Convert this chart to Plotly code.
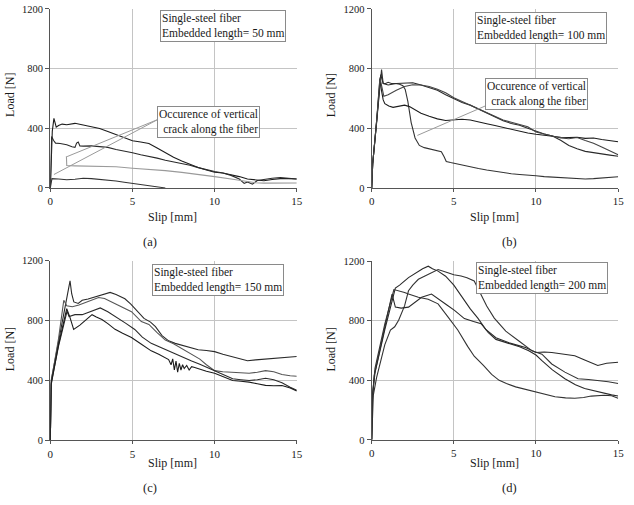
import plotly.graph_objects as go

# ---------------- data ----------------
x_ticks = [0, 5, 10, 15]
y_ticks = [0, 400, 800, 1200]
panel_labels = ["(a)", "(b)", "(c)", "(d)"]
box_texts = [
    "Single-steel fiber<br>Embedded length= 50 mm",
    "Single-steel fiber<br>Embedded length= 100 mm",
    "Single-steel fiber<br>Embedded length= 150 mm",
    "Single-steel fiber<br>Embedded length= 200 mm",
]
crack_text = "Occurence of vertical<br>crack along the fiber"

# (a) embedded length 50 mm
a1_x = [0, 0.05, 0.12, 0.22, 0.3, 0.36, 0.5, 0.72, 1.0, 1.5, 2.0, 2.5, 3.0, 3.5, 4.0, 4.5, 5.0, 5.5, 6.0, 6.5, 7.0, 7.5, 8.0, 8.5, 9.0, 9.5, 10.0, 10.5, 11.0, 11.5, 12.0, 12.5, 13.0, 13.5, 14.0, 14.5, 15.0]
a1_y = [0, 250, 380, 466, 425, 407, 418, 428, 424, 433, 422, 412, 398, 378, 356, 334, 316, 308, 298, 268, 236, 205, 180, 158, 137, 120, 105, 100, 90, 76, 60, 52, 48, 56, 62, 62, 60]
a2_x = [0, 0.05, 0.08, 0.2, 0.32, 0.6, 1.0, 1.32, 1.5, 1.6, 1.7, 1.8, 2.0, 2.5, 3.0, 3.5, 4.0, 4.5, 5.0, 5.5, 6.0, 6.5, 7.0, 7.5, 8.0, 8.5, 9.0, 9.5, 10.0, 10.5, 11.0, 11.5, 11.8, 12.0, 12.3, 12.6, 13.0, 13.5, 14.0, 14.5, 15.0]
a2_y = [0, 250, 345, 318, 300, 298, 290, 276, 272, 300, 308, 282, 280, 282, 278, 272, 258, 248, 236, 222, 212, 200, 186, 176, 164, 152, 136, 122, 110, 100, 84, 60, 30, 40, 25, 50, 58, 65, 70, 65, 60]
a3_x = [0.98, 1.0, 1.5, 2.0, 3.0, 4.0, 5.0, 6.0, 7.0, 8.0, 9.0, 10.0, 11.0, 12.0, 12.5, 13.0, 14.0, 15.0]
a3_y = [212, 150, 148, 146, 142, 142, 132, 125, 116, 104, 92, 76, 60, 40, 35, 32, 32, 33]
a4_x = [0, 0.05, 0.1, 0.5, 1.0, 1.5, 2.0, 2.5, 3.0, 3.5, 4.0, 4.5, 5.0, 5.5, 6.0, 6.5, 7.0]
a4_y = [0, 55, 62, 60, 55, 58, 65, 62, 58, 52, 46, 38, 30, 24, 16, 8, 0]

# (b) embedded length 100 mm
b1_x = [0, 0.06, 0.3, 0.6, 0.7, 0.85, 1.0, 1.2, 1.44, 1.7, 1.9, 2.04, 2.2, 2.4, 2.64, 2.9, 3.2, 3.44, 3.8, 4.0, 4.24, 4.4, 4.54, 4.8, 5.2, 5.6, 6.0, 6.5, 7.0, 7.5, 8.0, 8.5, 9.0, 9.5, 10.0, 10.5, 11.0, 11.5, 12.0, 12.5, 13.0, 13.5, 14.0, 14.5, 15.0]
b1_y = [0, 160, 440, 793, 700, 700, 708, 700, 700, 695, 685, 660, 580, 440, 335, 285, 270, 264, 255, 250, 243, 210, 177, 170, 160, 150, 140, 130, 120, 112, 100, 95, 90, 88, 82, 76, 72, 67, 64, 62, 60, 62, 65, 70, 75]
b2_x = [0, 0.06, 0.3, 0.5, 0.6, 0.7, 0.8, 1.04, 1.3, 1.6, 2.0, 2.3, 2.6, 3.0, 3.5, 4.0, 4.5, 5.0, 5.5, 6.0, 6.5, 7.0, 7.5, 8.0, 8.5, 9.0, 9.5, 10.0, 10.5, 11.0, 11.5, 12.0, 12.5, 13.0, 13.5, 14.0, 14.5, 15.0]
b2_y = [0, 160, 440, 730, 650, 590, 565, 549, 540, 548, 555, 545, 528, 500, 480, 463, 452, 455, 460, 455, 445, 430, 418, 405, 395, 380, 368, 360, 352, 345, 340, 338, 340, 332, 335, 325, 318, 310]
b3_x = [0, 0.06, 0.3, 0.55, 0.7, 1.0, 1.5, 2.0, 2.5, 3.0, 3.5, 4.0, 4.5, 5.0, 5.5, 6.0, 6.5, 7.0, 7.5, 8.0, 8.5, 9.0, 9.5, 10.0, 10.5, 11.0, 11.5, 12.0, 12.5, 13.0, 13.5, 14.0, 14.5, 15.0]
b3_y = [0, 160, 450, 760, 700, 690, 700, 700, 705, 690, 675, 655, 625, 598, 572, 555, 530, 505, 475, 450, 432, 420, 400, 380, 362, 348, 320, 285, 262, 245, 235, 228, 220, 212]
b4_x = [0, 0.06, 0.3, 0.5, 0.74, 1.0, 1.5, 2.0, 2.5, 3.0, 3.5, 4.0, 4.5, 5.0, 5.5, 6.0, 6.5, 7.0, 7.5, 8.0, 8.5, 9.0, 9.5, 10.0, 10.5, 11.0, 11.5, 12.0, 12.5, 13.0, 13.5, 14.0, 14.5, 15.0]
b4_y = [0, 160, 450, 740, 614, 625, 655, 680, 692, 690, 680, 662, 638, 605, 580, 555, 530, 505, 478, 455, 440, 425, 410, 375, 360, 350, 335, 330, 338, 318, 300, 275, 250, 222]

# (c) embedded length 150 mm
c1_x = [0, 0.05, 0.6, 1.2, 1.3, 1.43, 1.7, 1.94, 2.3, 2.6, 2.94, 3.3, 3.64, 4.0, 4.54, 4.9, 5.34, 5.7, 6.1, 6.4, 6.8, 7.2, 7.6, 8.0, 8.5, 9.0, 9.5, 10.0, 10.5, 11.0, 11.5, 12.0, 12.5, 13.1, 13.6, 14.0, 14.5, 15.0]
c1_y = [0, 400, 718, 1066, 980, 925, 915, 936, 945, 955, 965, 978, 989, 975, 946, 910, 860, 815, 790, 760, 700, 665, 648, 636, 622, 605, 600, 593, 575, 560, 545, 532, 538, 543, 550, 555, 558, 560]
c2_x = [0, 0.05, 0.5, 0.82, 1.0, 1.34, 1.74, 2.3, 2.94, 3.3, 3.74, 4.3, 4.94, 5.54, 6.0, 6.5, 7.0, 7.5, 8.1, 8.6, 9.1, 9.5, 10.0, 10.5, 11.1, 11.6, 12.1, 12.6, 13.1, 13.6, 14.1, 14.6, 15.0]
c2_y = [0, 390, 680, 936, 900, 893, 905, 930, 955, 948, 925, 895, 860, 794, 775, 720, 670, 645, 608, 575, 543, 505, 466, 458, 455, 450, 448, 455, 466, 458, 440, 432, 428]
c3_x = [0, 0.05, 0.5, 1.02, 1.14, 1.5, 1.94, 2.5, 3.04, 3.5, 4.14, 4.6, 5.14, 5.6, 6.14, 6.6, 7.1, 7.6, 8.1, 8.6, 9.1, 9.6, 10.0, 10.5, 11.1, 11.6, 12.1, 12.6, 13.1, 13.6, 14.1, 14.6, 15.0]
c3_y = [0, 380, 630, 863, 828, 840, 840, 862, 885, 860, 818, 782, 741, 690, 648, 625, 600, 578, 554, 530, 508, 485, 466, 440, 411, 405, 400, 405, 415, 405, 385, 355, 335]
c4_x = [0, 0.05, 0.5, 1.0, 1.2, 1.42, 1.8, 2.2, 2.54, 2.8, 3.14, 3.5, 3.94, 4.4, 4.94, 5.5, 6.14, 6.6, 7.0, 7.2, 7.35, 7.45, 7.55, 7.65, 7.75, 7.85, 7.95, 8.05, 8.15, 8.3, 8.45, 8.6, 8.74, 9.0, 9.5, 10.0, 10.5, 11.1, 11.6, 12.1, 12.6, 13.1, 13.6, 14.1, 14.6, 15.0]
c4_y = [0, 370, 640, 880, 820, 741, 770, 805, 840, 825, 808, 780, 742, 715, 687, 645, 598, 575, 555, 540, 505, 545, 470, 530, 455, 515, 470, 505, 480, 500, 470, 492, 488, 478, 462, 448, 425, 400, 395, 389, 378, 367, 365, 366, 350, 330]

# (d) embedded length 200 mm
d1_x = [0, 0.05, 0.2, 0.8, 1.44, 1.7, 2.24, 2.5, 2.84, 3.1, 3.44, 3.7, 4.04, 4.5, 5.0, 5.5, 6.0, 6.46, 6.96, 7.56, 8.0, 8.36, 8.9, 9.36, 10.0, 10.5, 10.96, 11.5, 12.36, 13.0, 13.76, 14.3, 15.0]
d1_y = [0, 300, 450, 740, 1020, 1040, 1090, 1110, 1134, 1150, 1167, 1150, 1134, 1100, 1040, 960, 880, 818, 740, 686, 665, 653, 635, 620, 587, 590, 587, 578, 565, 535, 500, 515, 521]
d2_x = [0, 0.1, 0.3, 0.8, 1.14, 1.4, 1.64, 2.0, 2.24, 2.5, 2.84, 3.2, 3.64, 4.04, 4.64, 5.0, 5.44, 5.8, 6.24, 6.6, 7.0, 7.46, 8.16, 8.96, 9.76, 10.36, 10.96, 11.76, 12.56, 13.2, 13.76, 14.4, 15.0]
d2_y = [0, 300, 420, 640, 738, 760, 804, 900, 1002, 1040, 1079, 1100, 1123, 1145, 1123, 1110, 1101, 1090, 1068, 990, 900, 818, 730, 664, 598, 576, 510, 455, 411, 405, 400, 390, 378]
d3_x = [0, 0.05, 0.15, 0.7, 1.24, 1.44, 1.8, 2.24, 2.6, 3.04, 3.64, 4.24, 4.6, 5.04, 5.64, 6.2, 6.66, 7.1, 7.56, 8.0, 8.56, 9.0, 9.56, 10.0, 10.36, 11.0, 11.76, 12.4, 12.96, 13.5, 14.16, 14.6, 15.0]
d3_y = [0, 280, 430, 720, 980, 892, 885, 892, 920, 958, 980, 936, 905, 870, 815, 795, 780, 720, 675, 660, 642, 625, 598, 570, 532, 470, 411, 370, 345, 330, 312, 302, 295]
d4_x = [0, 0.05, 0.2, 0.8, 1.35, 1.64, 2.0, 2.24, 2.84, 3.44, 4.04, 4.64, 5.24, 5.84, 6.24, 6.8, 7.3, 7.76, 8.2, 8.76, 9.3, 10.0, 10.6, 11.16, 11.8, 12.36, 12.9, 13.36, 14.16, 14.6, 15.0]
d4_y = [0, 300, 480, 780, 1010, 1002, 990, 980, 958, 945, 914, 826, 738, 628, 562, 500, 440, 400, 378, 356, 340, 323, 305, 290, 282, 279, 285, 294, 300, 296, 280]

# ---------------- layout helpers (pixel -> paper) ----------------
W, H = 634, 505
def px(v):
    return v / W
def py(v):
    return 1 - v / H

SERIF = "Liberation Serif, Times New Roman, serif"
TXT = "#1a1a1a"

panels = [
    dict(ax="", curves=[(a1_x, a1_y, "#1c1c1c"), (a2_x, a2_y, "#2a2a2a"), (a3_x, a3_y, "#9a9a9a"), (a4_x, a4_y, "#333333")],
         xd=(48, 298), yd=(4, 187)),
    dict(ax="2", curves=[(b1_x, b1_y, "#333333"), (b2_x, b2_y, "#1c1c1c"), (b3_x, b3_y, "#2a2a2a"), (b4_x, b4_y, "#444444")],
         xd=(374, 624), yd=(4, 187)),
    dict(ax="3", curves=[(c1_x, c1_y, "#2a2a2a"), (c2_x, c2_y, "#555555"), (c3_x, c3_y, "#2a2a2a"), (c4_x, c4_y, "#1c1c1c")],
         xd=(48, 298), yd=(261.5, 445)),
    dict(ax="4", curves=[(d1_x, d1_y, "#2a2a2a"), (d2_x, d2_y, "#333333"), (d3_x, d3_y, "#2a2a2a"), (d4_x, d4_y, "#333333")],
         xd=(374, 624), yd=(262, 444.5)),
]

fig = go.Figure()
layout = dict(
    width=W, height=H,
    margin=dict(l=0, r=0, t=0, b=0),
    paper_bgcolor="white", plot_bgcolor="white",
    showlegend=False,
    font=dict(family=SERIF, color=TXT),
    annotations=[], shapes=[],
)

for p in panels:
    a = p["ax"]
    for xs, ys, col in p["curves"]:
        fig.add_trace(go.Scatter(x=xs, y=ys, mode="lines", xaxis="x" + a, yaxis="y" + a,
                                 line=dict(color=col, width=1.1), hoverinfo="skip"))
    layout["xaxis" + a] = dict(
        domain=[px(p["xd"][0]), px(p["xd"][1])], anchor="y" + a, range=[0, 15],
        tickvals=x_ticks, ticktext=[str(v) for v in x_ticks],
        showgrid=True, gridcolor="#c4c4c4", gridwidth=1, zeroline=False,
        showline=True, linecolor="#555555", linewidth=1.2,
        ticks="outside", ticklen=3, tickcolor="#555555",
        tickfont=dict(family=SERIF, size=11, color=TXT),
    )
    layout["yaxis" + a] = dict(
        domain=[py(p["yd"][1]), py(p["yd"][0])], anchor="x" + a, range=[0, 1200],
        tickvals=y_ticks, ticktext=[str(v) for v in y_ticks],
        showgrid=True, gridcolor="#c4c4c4", gridwidth=1, zeroline=False,
        showline=True, linecolor="#555555", linewidth=1.2,
        ticks="outside", ticklen=4, tickcolor="#555555",
        tickfont=dict(family=SERIF, size=10.5, color=TXT),
    )

# axis titles and panel labels
title_pos = [
    # (ylabel x, ylabel y, xlabel x, xlabel y, panel x, panel y)
    (7, 92, 172, 217, 149, 242),
    (333, 92, 499, 217, 514, 242),
    (7, 352, 172, 468, 149, 494),
    (333, 352, 499, 468, 514, 494),
]
for (yx, yy, xx, xy, lx, ly), lab in zip(title_pos, panel_labels):
    layout["annotations"].append(dict(x=px(yx), y=py(yy), xref="paper", yref="paper", text="Load [N]",
                                      xanchor="center", yanchor="middle",
                                      textangle=-90, showarrow=False, font=dict(size=12, family=SERIF, color=TXT)))
    layout["annotations"].append(dict(x=px(xx), y=py(xy), xref="paper", yref="paper", text="Slip [mm]",
                                      xanchor="center", yanchor="middle",
                                      showarrow=False, font=dict(size=12, family=SERIF, color=TXT)))
    layout["annotations"].append(dict(x=px(lx), y=py(ly), xref="paper", yref="paper", text=lab,
                                      xanchor="center", yanchor="middle",
                                      showarrow=False, font=dict(size=12.5, family=SERIF, color=TXT)))

# boxed captions
box_pos = [(159, 5), (479, 7), (151, 265), (480, 263)]
for (bx, by), t in zip(box_pos, box_texts):
    layout["annotations"].append(dict(x=px(bx), y=py(by), xref="paper", yref="paper", text=t,
                                      xanchor="left", yanchor="top", align="left", showarrow=False,
                                      bordercolor="#8a8a8a", borderwidth=1, borderpad=1, bgcolor="white",
                                      font=dict(size=11.5, family=SERIF, color=TXT)))

# crack annotation boxes
crack_pos = [(261, 103), (593, 75)]
for (cx, cy) in crack_pos:
    layout["annotations"].append(dict(x=px(cx), y=py(cy), xref="paper", yref="paper", text=crack_text,
                                      xanchor="right", yanchor="top", align="right", showarrow=False,
                                      bordercolor="#8a8a8a", borderwidth=1, borderpad=1, bgcolor="white",
                                      font=dict(size=11.5, family=SERIF, color=TXT)))

# pointer lines (data coordinates)
pointer_a = [((6.55, 459), (1.02, 210)), ((6.55, 459), (0.22, 90))]
pointer_b = [((7.45, 575), (2.78, 352))]
for (x0, y0), (x1, y1) in pointer_a:
    layout["shapes"].append(dict(type="line", xref="x", yref="y", x0=x0, y0=y0, x1=x1, y1=y1,
                                 line=dict(color="#9a9a9a", width=1)))
for (x0, y0), (x1, y1) in pointer_b:
    layout["shapes"].append(dict(type="line", xref="x2", yref="y2", x0=x0, y0=y0, x1=x1, y1=y1,
                                 line=dict(color="#9a9a9a", width=1)))

fig.update_layout(**layout)
fig.write_html("out.html")
